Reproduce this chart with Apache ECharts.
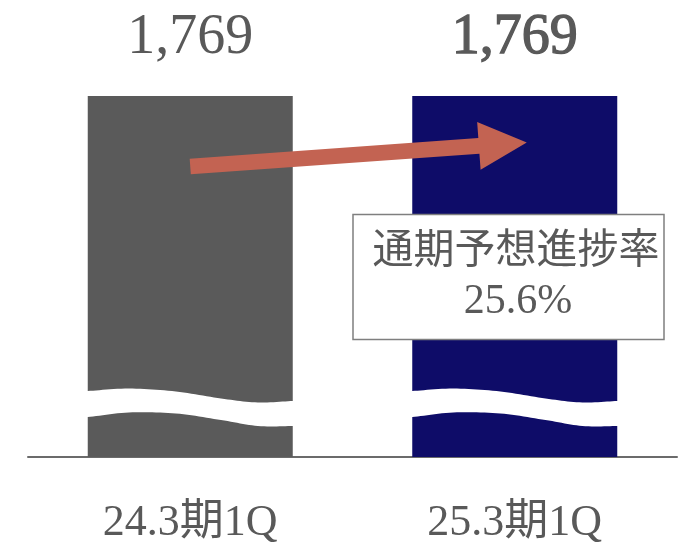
<!DOCTYPE html>
<html>
<head>
<meta charset="utf-8">
<title>通期予想進捗率</title>
<script src="https://cdn.jsdelivr.net/npm/echarts@6/dist/echarts.min.js"></script>
<style>
  html, body { margin: 0; padding: 0; background: #ffffff; }
  #chart { width: 695px; height: 546px; }
</style>
</head>
<body>
<div id="chart"></div>
<script>
// Quarterly figures compared year over year
const categories = ['24.3期1Q', '25.3期1Q'];
const values = [1769, 1769];
const progressTitle = '通期予想進捗率';
const progressRate = 25.6; // %

// Styling
const SERIF = "'Liberation Serif', 'Noto Sans CJK JP', serif";
const TEXT_COLOR = '#595959';
const BAR_COLORS = ['#5a5a5a', '#0e0c68'];
const BAR_W = 205;
const ARROW_COLOR = '#c36352';

// Break-mark outline: [fraction across bar, height above baseline in px]
const BREAK_TOP = [[-0.08, 66], [0, 66], [0.2, 68.5], [0.43, 65.5], [0.65, 58.5], [0.83, 54.5], [1, 56], [1.08, 56]];
const BREAK_BOTTOM = [[-0.08, 40], [0, 40], [0.2, 44.5], [0.43, 43.5], [0.65, 37], [0.83, 31], [1, 31], [1.08, 31]];

// Catmull-Rom sampling for the wavy break edge
function spline(pts, steps) {
  const out = [];
  for (let i = 0; i < pts.length - 1; i++) {
    const p0 = pts[Math.max(i - 1, 0)], p1 = pts[i], p2 = pts[i + 1], p3 = pts[Math.min(i + 2, pts.length - 1)];
    for (let s = 0; s < steps; s++) {
      const t = s / steps, t2 = t * t, t3 = t2 * t;
      const f = (a, b, c, d) => 0.5 * ((2 * b) + (-a + c) * t + (2 * a - 5 * b + 4 * c - d) * t2 + (-a + 3 * b - 3 * c + d) * t3);
      out.push([f(p0[0], p1[0], p2[0], p3[0]), f(p0[1], p1[1], p2[1], p3[1])]);
    }
  }
  out.push(pts[pts.length - 1]);
  return out;
}

const chart = echarts.init(document.getElementById('chart'), null, { renderer: 'canvas' });

const option = {
  animation: false,
  backgroundColor: '#ffffff',
  grid: { left: 28, right: 18, top: 49, bottom: 89, containLabel: false },
  xAxis: {
    type: 'category',
    data: categories,
    axisTick: { show: false },
    axisLine: { show: true, lineStyle: { color: '#6b6b6b', width: 2 } },
    axisLabel: {
      color: TEXT_COLOR,
      fontFamily: SERIF,
      fontSize: 44,
      margin: 44
    }
  },
  yAxis: {
    type: 'value',
    min: 0,
    max: 2000,
    show: false,
    splitLine: { show: false }
  },
  series: [
    {
      type: 'bar',
      barWidth: BAR_W,
      data: values.map((v, i) => ({
        value: v,
        itemStyle: { color: BAR_COLORS[i] },
        // the current quarter's figure is set slightly heavier
        label: i === 1 ? { textBorderColor: TEXT_COLOR, textBorderWidth: 1.3 } : {}
      })),
      label: {
        show: true,
        position: 'top',
        distance: 30,
        color: TEXT_COLOR,
        fontFamily: SERIF,
        fontSize: 56,
        formatter: p => p.value.toLocaleString('en-US')
      }
    },
    {
      // wavy axis-break mark across each bar
      type: 'custom',
      silent: true,
      z: 5,
      data: values.map((v, i) => [i, 0]),
      encode: { x: 0, y: 1 },
      renderItem: function (params, api) {
        const base = api.coord([api.value(0), 0]);
        const x0 = base[0] - BAR_W / 2;
        const toPx = ([t, h]) => [x0 + t * BAR_W, base[1] - h];
        const top = spline(BREAK_TOP.map(toPx), 12);
        const bottom = spline(BREAK_BOTTOM.map(toPx), 12).reverse();
        return {
          type: 'polygon',
          shape: { points: top.concat(bottom) },
          style: { fill: '#ffffff' }
        };
      }
    }
  ]
};

chart.setOption(option);

// Growth arrow from the first bar towards the second, plus the progress callout
function arrowPoints(from, to, shaftHalf, headHalf, headLen) {
  const dx = to[0] - from[0], dy = to[1] - from[1];
  const len = Math.hypot(dx, dy);
  const ux = dx / len, uy = dy / len;
  const nx = -uy, ny = ux;
  const bx = to[0] - ux * headLen, by = to[1] - uy * headLen;
  return [
    [from[0] + nx * shaftHalf, from[1] + ny * shaftHalf],
    [bx + nx * shaftHalf, by + ny * shaftHalf],
    [bx + nx * headHalf, by + ny * headHalf],
    [to[0], to[1]],
    [bx - nx * headHalf, by - ny * headHalf],
    [bx - nx * shaftHalf, by - ny * shaftHalf],
    [from[0] - nx * shaftHalf, from[1] - ny * shaftHalf]
  ];
}

const start = chart.convertToPixel({ seriesIndex: 0 }, [0, 1424]);
const tipBase = chart.convertToPixel({ seriesIndex: 0 }, [1, 1542]);
const tip = [tipBase[0] + 12, tipBase[1]];

chart.setOption({
  graphic: [
    {
      type: 'polygon',
      z: 100,
      shape: { points: arrowPoints(start, tip, 7.8, 24, 48) },
      style: { fill: ARROW_COLOR }
    },
    {
      type: 'rect',
      z: 100,
      shape: { x: 353, y: 214.5, width: 311, height: 125 },
      style: { fill: '#ffffff', stroke: '#7f7f7f', lineWidth: 1.5 }
    },
    {
      type: 'text',
      z: 101,
      style: {
        text: progressTitle,
        x: 516, y: 252,
        textAlign: 'center',
        textVerticalAlign: 'middle',
        fill: TEXT_COLOR,
        fontFamily: SERIF,
        fontSize: 41
      }
    },
    {
      type: 'text',
      z: 101,
      style: {
        text: progressRate.toFixed(1) + '%',
        x: 518, y: 302,
        textAlign: 'center',
        textVerticalAlign: 'middle',
        fill: TEXT_COLOR,
        fontFamily: SERIF,
        fontSize: 42
      }
    }
  ]
});
</script>
</body>
</html>
